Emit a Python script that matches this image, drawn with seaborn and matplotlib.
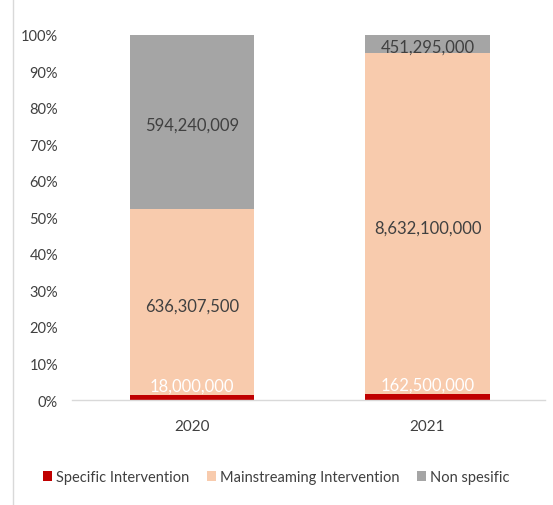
import numpy as np
import pandas as pd
import seaborn as sns
import matplotlib.pyplot as plt
from matplotlib.patches import Patch
from matplotlib.lines import Line2D

years = ["2020", "2021"]
specific = [18000000, 162500000]
mainstreaming = [636307500, 8632100000]
non_specific = [594240009, 451295000]
series_names = ["Specific Intervention", "Mainstreaming Intervention", "Non spesific"]
colors = ["#C00000", "#F8CBAD", "#A5A5A5"]

sns.set_style("white")
plt.rcParams["font.family"] = ["Liberation Sans Narrow", "Lato", "DejaVu Sans"]

df = pd.DataFrame({"year": years, "specific": specific,
                   "mainstreaming": mainstreaming, "non_specific": non_specific})
total = df[["specific", "mainstreaming", "non_specific"]].sum(axis=1)
df["p1"] = df["specific"] / total
df["p2"] = df["mainstreaming"] / total
df["p3"] = df["non_specific"] / total
df["c1"] = df["p1"]
df["c2"] = df["p1"] + df["p2"]
df["c3"] = df["c2"] + df["p3"]

fig = plt.figure(figsize=(5.53, 5.06), dpi=100)
ax = fig.add_axes([0.130, 0.2075, 0.856, 0.7215])

# stacked bars: draw cumulative heights from top down
for col, c in zip(["c3", "c2", "c1"], colors[::-1]):
    sns.barplot(data=df, x="year", y=col, color=c, width=0.53, ax=ax,
                saturation=1, edgecolor="none")

ax.set_ylim(0, 1)
ax.set_xlim(-0.51, 1.5)
ax.set_yticks(np.arange(0, 1.01, 0.1))
ax.set_yticklabels([f"{int(round(v * 100))}%" for v in np.arange(0, 1.01, 0.1)])
ax.tick_params(axis="y", length=0, labelsize=10.5, labelcolor="#404040", pad=10)
ax.tick_params(axis="x", length=0, labelsize=11, labelcolor="#404040", pad=14)
ax.set_xlabel("")
ax.set_ylabel("")
for s in ["top", "right", "left"]:
    ax.spines[s].set_visible(False)
ax.spines["bottom"].set_color("#D9D9D9")
ax.spines["bottom"].set_linewidth(1)

# data labels
for i, row in df.iterrows():
    ax.text(i, row["c1"] + 0.004, f"{row['specific']:,}", ha="center", va="bottom",
            color="white", fontsize=12)
    ax.text(i, row["c1"] + row["p2"] / 2 - 0.012, f"{row['mainstreaming']:,}", ha="center",
            va="center", color="#404040", fontsize=12)
    ax.text(i, row["c2"] + row["p3"] / 2 - 0.008, f"{row['non_specific']:,}", ha="center",
            va="center", color="#404040", fontsize=12)

handles = [Patch(facecolor=c, edgecolor="none") for c in colors]
fig.legend(handles, series_names, loc="center", bbox_to_anchor=(0.5, 0.055),
           ncol=3, frameon=False, fontsize=10.5, handlelength=0.6, handleheight=0.6,
           handletextpad=0.3, columnspacing=1.2, labelcolor="#404040")

# chart frame line on left
fig.add_artist(Line2D([0.023, 0.023], [0.0, 1.0], color="#D9D9D9", lw=1))

fig.savefig("out.png", dpi=100)
